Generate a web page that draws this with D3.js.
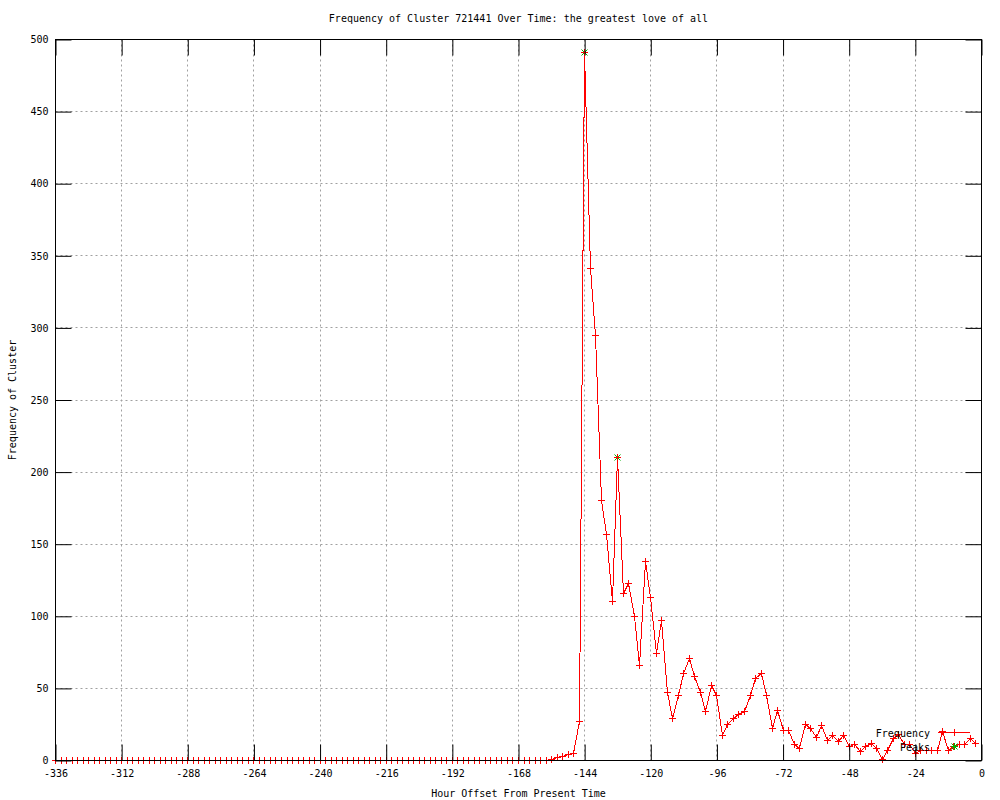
<!DOCTYPE html>
<html>
<head>
<meta charset="utf-8">
<script src="https://cdn.jsdelivr.net/npm/d3@7"></script>
<style>
  body { margin: 0; background: #fff; }
  svg { display: block; }
  text { font-family: "DejaVu Sans Mono", "Liberation Mono", monospace; font-size: 10px; fill: #000; }
</style>
</head>
<body>
<div id="chart"></div>
<script>
// hour offsets, sampled every 2 hours
const hours = [
  -336, -334, -332, -330, -328, -326, -324, -322, -320, -318, -316, -314, -312, -310, -308, -306,
  -304, -302, -300, -298, -296, -294, -292, -290, -288, -286, -284, -282, -280, -278, -276, -274,
  -272, -270, -268, -266, -264, -262, -260, -258, -256, -254, -252, -250, -248, -246, -244, -242,
  -240, -238, -236, -234, -232, -230, -228, -226, -224, -222, -220, -218, -216, -214, -212, -210,
  -208, -206, -204, -202, -200, -198, -196, -194, -192, -190, -188, -186, -184, -182, -180, -178,
  -176, -174, -172, -170, -168, -166, -164, -162, -160, -158, -156, -154, -152, -150, -148, -146,
  -144, -142, -140, -138, -136, -134, -132, -130, -128, -126, -124, -122, -120, -118, -116, -114,
  -112, -110, -108, -106, -104, -102, -100, -98, -96, -94, -92, -90, -88, -86, -84, -82,
  -80, -78, -76, -74, -72, -70, -68, -66, -64, -62, -60, -58, -56, -54, -52, -50,
  -48, -46, -44, -42, -40, -38, -36, -34, -32, -30, -28, -26, -24, -22, -20, -18,
  -16, -14, -12, -10, -8, -6, -4, -2
];

const frequency = [
  0, 0, 0, 0, 0, 0, 0, 0, 0, 0, 0, 0, 0, 0, 0, 0,
  0, 0, 0, 0, 0, 0, 0, 0, 0, 0, 0, 0, 0, 0, 0, 0,
  0, 0, 0, 0, 0, 0, 0, 0, 0, 0, 0, 0, 0, 0, 0, 0,
  0, 0, 0, 0, 0, 0, 0, 0, 0, 0, 0, 0, 0, 0, 0, 0,
  0, 0, 0, 0, 0, 0, 0, 0, 0, 0, 0, 0, 0, 0, 0, 0,
  0, 0, 0, 0, 0, 0, 0, 0, 0, 0, 1, 2, 3, 4, 5, 27,
  491, 341, 295, 180, 157, 110, 210, 116, 123, 100, 66, 138, 113, 74, 97, 47,
  29, 45, 60, 71, 58, 47, 34, 52, 45, 17, 25, 29, 32, 34, 45, 57,
  60, 45, 22, 35, 21, 21, 11, 8, 25, 22, 16, 24, 14, 17, 13, 17,
  10, 11, 6, 10, 12, 8, 1, 7, 15, 18, 11, 11, 5, 7, 7, 7,
  7, 20, 7, 10, 11, 11, 15, 12
];

const peakHours = [-144, -132];
const peakValues = [491, 210];

const xTicks = [-336, -312, -288, -264, -240, -216, -192, -168, -144, -120, -96, -72, -48, -24, 0];
const yTicks = [0, 50, 100, 150, 200, 250, 300, 350, 400, 450, 500];

const titleText = 'Frequency of Cluster 721441 Over Time: the greatest love of all';
const xLabel = 'Hour Offset From Present Time';
const yLabel = 'Frequency of Cluster';

const width = 1000, height = 800;
const margin = {left: 55, right: 19, top: 39, bottom: 40};

const svg = d3.select('#chart').append('svg')
  .attr('width', width)
  .attr('height', height)
  .style('background', '#fff');

const x = d3.scaleLinear().domain([-336, 0]).range([margin.left, width - margin.right]);
const y = d3.scaleLinear().domain([0, 500]).range([height - margin.bottom, margin.top]);

const px = v => Math.round(x(v)) + 0.5;
const py = v => Math.round(y(v)) + 0.5;

const x0 = px(-336), x1 = px(0), y0 = py(0), y1 = py(500);

// grid
const grid = svg.append('g').attr('stroke', '#a0a0a0').attr('stroke-dasharray', '2,3');
grid.selectAll('line.gx')
  .data(xTicks.slice(1, -1))
  .enter().append('line')
  .attr('x1', d => px(d)).attr('x2', d => px(d))
  .attr('y1', y1).attr('y2', y0);
grid.selectAll('line.gy')
  .data(yTicks.slice(1, -1))
  .enter().append('line')
  .attr('y1', d => py(d)).attr('y2', d => py(d))
  .attr('x1', x0).attr('x2', x1);

// data line
const pts = hours.map((h, i) => ({h, v: frequency[i]}));
const line = d3.line().x(d => px(d.h)).y(d => py(d.v));
svg.append('path')
  .datum(pts)
  .attr('d', line)
  .attr('fill', 'none')
  .attr('stroke', '#ff0000')
  .attr('stroke-width', 1)
  .attr('shape-rendering', 'crispEdges');

const plusPath = 'M-3.5,0H3.5M0,-3.5V3.5';
const starPath = 'M-3,-3L3,3M-3,3L3,-3M-3.5,0H3.5M0,-3.5V3.5';

// peaks
const peaks = peakHours.map((h, i) => ({h, v: peakValues[i]}));
svg.append('g').selectAll('path')
  .data(peaks)
  .enter().append('path')
  .attr('transform', d => `translate(${px(d.h)},${py(d.v)})`)
  .attr('d', starPath)
  .attr('stroke', '#00b000')
  .attr('fill', 'none');

// markers
svg.append('g').selectAll('path')
  .data(pts)
  .enter().append('path')
  .attr('transform', d => `translate(${px(d.h)},${py(d.v)})`)
  .attr('d', plusPath)
  .attr('stroke', '#ff0000')
  .attr('fill', 'none')
  .attr('shape-rendering', 'crispEdges');

// axes, ticks pointing inward on all four sides
const gx = svg.append('g')
  .attr('transform', `translate(0.5,${y0})`)
  .call(d3.axisBottom(x).tickValues(xTicks).tickSizeInner(-16).tickSizeOuter(0).tickPadding(9).tickFormat(d3.format('d')));
const gxt = svg.append('g')
  .attr('transform', `translate(0.5,${y1})`)
  .call(d3.axisTop(x).tickValues(xTicks).tickSizeInner(-16).tickSizeOuter(0).tickFormat(''));
const gy = svg.append('g')
  .attr('transform', `translate(${x0},0.5)`)
  .call(d3.axisLeft(y).tickValues(yTicks).tickSizeInner(-16).tickSizeOuter(0).tickPadding(7).tickFormat(d3.format('d')));
const gyr = svg.append('g')
  .attr('transform', `translate(${x1},0.5)`)
  .call(d3.axisRight(y).tickValues(yTicks).tickSizeInner(-16).tickSizeOuter(0).tickFormat(''));

[gx, gxt, gy, gyr].forEach(g => {
  g.select('.domain').remove();
  g.selectAll('.tick line').attr('stroke', '#000');
  g.selectAll('text')
    .attr('font-family', '"DejaVu Sans Mono", monospace')
    .attr('font-size', 10)
    .attr('fill', '#000')
    .text(function () { return d3.select(this).text().replace('\u2212', '-'); });
});

// border
svg.append('rect')
  .attr('x', x0).attr('y', y1)
  .attr('width', x1 - x0).attr('height', y0 - y1)
  .attr('fill', 'none')
  .attr('stroke', '#000');

// titles
svg.append('text')
  .attr('x', (x0 + x1) / 2)
  .attr('y', 22)
  .attr('text-anchor', 'middle')
  .text(titleText);

svg.append('text')
  .attr('x', (x0 + x1) / 2)
  .attr('y', 797)
  .attr('text-anchor', 'middle')
  .text(xLabel);

svg.append('text')
  .attr('transform', `translate(16,${(y0 + y1) / 2})rotate(-90)`)
  .attr('text-anchor', 'middle')
  .text(yLabel);

// key
const key = svg.append('g');
key.append('text').attr('x', 930).attr('y', 736.5).attr('text-anchor', 'end').text('Frequency');
key.append('line')
  .attr('x1', 938).attr('x2', 970).attr('y1', 732.5).attr('y2', 732.5)
  .attr('stroke', '#ff0000');
key.append('path').attr('transform', 'translate(954.5,732.5)').attr('d', plusPath).attr('stroke', '#ff0000');
key.append('text').attr('x', 930).attr('y', 750.5).attr('text-anchor', 'end').text('Peaks');
key.append('path').attr('transform', 'translate(954.5,746.5)').attr('d', starPath).attr('stroke', '#00b000');
</script>
</body>
</html>
